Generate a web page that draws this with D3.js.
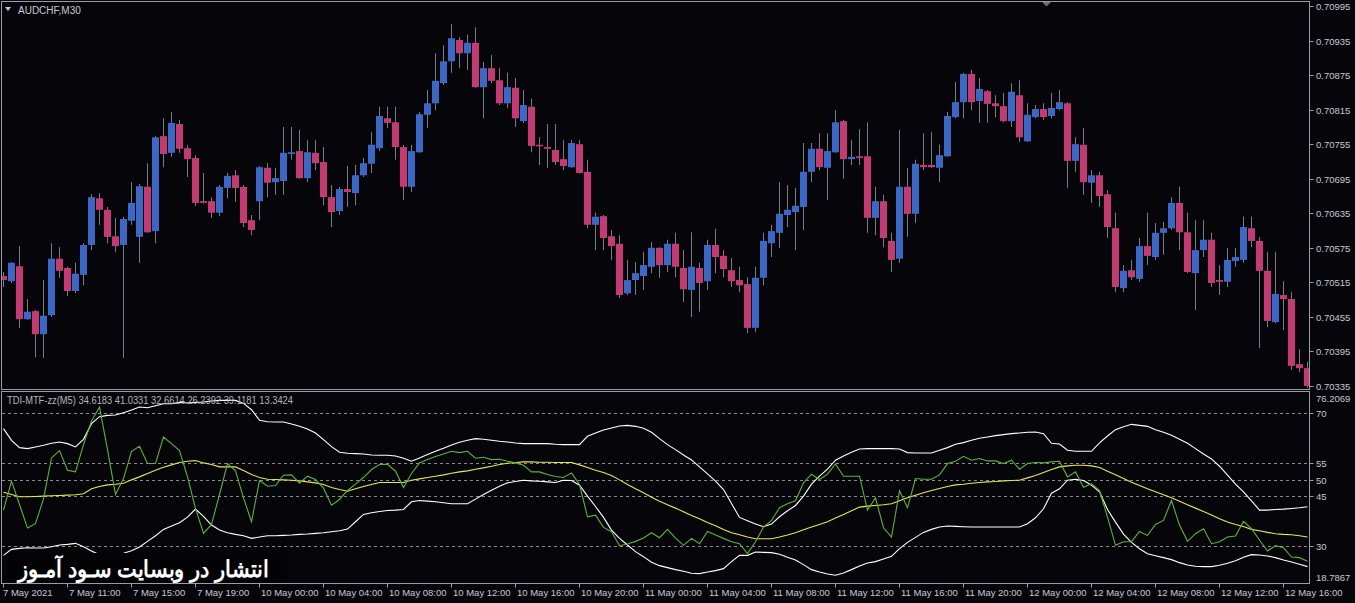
<!DOCTYPE html>
<html><head><meta charset="utf-8">
<script src="https://cdn.jsdelivr.net/npm/d3@7"></script>
<style>
html,body{margin:0;padding:0;background:#06060a;}
svg{display:block;}
text{font-family:"Liberation Sans",Arial,sans-serif;}
</style></head>
<body><svg id="c" width="1355" height="603"></svg>
<script>
// ---------- DATA ----------
const symbolTitle = "AUDCHF,M30";
const indicatorTitle = "TDI-MTF-zz(M5) 34.6183 41.0331 32.6614 26.2392 39.1181 13.3424";
const watermark = "انتشار در وبسایت سـود آمـوز";

const open = [0.70526,0.70517,0.70543,0.70451,0.70465,0.70425,0.70458,0.70556,0.70540,0.70500,
0.70528,0.70580,0.70661,0.70641,0.70595,0.70580,0.70622,0.70594,0.70681,0.70604,
0.70769,0.70740,0.70790,0.70748,0.70731,0.70656,0.70656,0.70636,0.70679,0.70701,
0.70681,0.70623,0.70656,0.70714,0.70689,0.70691,0.70738,0.70743,0.70696,0.70740,
0.70724,0.70663,0.70639,0.70677,0.70670,0.70701,0.70721,0.70748,0.70800,0.70793,
0.70750,0.70681,0.70741,0.70806,0.70826,0.70861,0.70899,0.70936,0.70913,0.70931,
0.70854,0.70887,0.70866,0.70826,0.70853,0.70795,0.70820,0.70754,0.70750,0.70745,
0.70729,0.70715,0.70755,0.70707,0.70615,0.70630,0.70595,0.70582,0.70496,0.70519,
0.70526,0.70542,0.70575,0.70545,0.70582,0.70540,0.70502,0.70540,0.70517,0.70580,
0.70561,0.70536,0.70519,0.70512,0.70436,0.70523,0.70583,0.70601,0.70632,0.70637,
0.70646,0.70707,0.70747,0.70714,0.70741,0.70795,0.70729,0.70734,0.70734,0.70627,
0.70656,0.70587,0.70556,0.70681,0.70634,0.70719,0.70719,0.70714,0.70734,0.70802,
0.70828,0.70877,0.70830,0.70847,0.70826,0.70821,0.70795,0.70840,0.70760,0.70802,
0.70816,0.70804,0.70816,0.70826,0.70726,0.70754,0.70688,0.70701,0.70668,0.70609,
0.70505,0.70536,0.70521,0.70578,0.70559,0.70601,0.70609,0.70653,0.70602,0.70531,
0.70571,0.70589,0.70519,0.70516,0.70552,0.70554,0.70609,0.70587,0.70535,0.70446,
0.70493,0.70486,0.70373,0.70366];
const high = [0.70533,0.70550,0.70578,0.70486,0.70467,0.70519,0.70583,0.70576,0.70542,0.70549,
0.70583,0.70668,0.70670,0.70646,0.70627,0.70629,0.70689,0.70686,0.70722,0.70769,
0.70800,0.70811,0.70797,0.70754,0.70736,0.70705,0.70663,0.70684,0.70705,0.70710,
0.70684,0.70632,0.70717,0.70722,0.70714,0.70785,0.70785,0.70780,0.70762,0.70762,
0.70750,0.70684,0.70681,0.70717,0.70719,0.70731,0.70776,0.70820,0.70820,0.70820,
0.70754,0.70754,0.70811,0.70849,0.70913,0.70927,0.70964,0.70941,0.70945,0.70958,
0.70898,0.70910,0.70887,0.70879,0.70870,0.70849,0.70834,0.70767,0.70790,0.70790,
0.70762,0.70762,0.70762,0.70728,0.70636,0.70632,0.70606,0.70597,0.70554,0.70550,
0.70568,0.70585,0.70576,0.70589,0.70601,0.70571,0.70602,0.70549,0.70589,0.70608,
0.70571,0.70557,0.70542,0.70524,0.70542,0.70601,0.70615,0.70689,0.70684,0.70679,
0.70757,0.70757,0.70774,0.70774,0.70814,0.70797,0.70762,0.70781,0.70793,0.70681,
0.70667,0.70601,0.70780,0.70714,0.70728,0.70774,0.70776,0.70754,0.70811,0.70863,
0.70879,0.70884,0.70870,0.70849,0.70840,0.70844,0.70861,0.70866,0.70826,0.70823,
0.70826,0.70844,0.70849,0.70828,0.70767,0.70783,0.70710,0.70707,0.70675,0.70636,
0.70545,0.70554,0.70592,0.70636,0.70618,0.70620,0.70663,0.70681,0.70636,0.70623,
0.70623,0.70601,0.70545,0.70575,0.70575,0.70629,0.70629,0.70594,0.70568,0.70568,
0.70517,0.70498,0.70399,0.70377];
const low = [0.70507,0.70514,0.70436,0.70450,0.70385,0.70384,0.70455,0.70523,0.70491,0.70496,
0.70510,0.70571,0.70615,0.70583,0.70568,0.70384,0.70615,0.70549,0.70601,0.70583,
0.70715,0.70733,0.70740,0.70698,0.70648,0.70652,0.70627,0.70630,0.70661,0.70655,
0.70611,0.70597,0.70623,0.70663,0.70667,0.70667,0.70728,0.70695,0.70689,0.70710,
0.70649,0.70611,0.70632,0.70646,0.70649,0.70698,0.70705,0.70743,0.70783,0.70728,
0.70658,0.70672,0.70740,0.70783,0.70814,0.70858,0.70879,0.70887,0.70884,0.70853,
0.70800,0.70861,0.70823,0.70818,0.70785,0.70792,0.70741,0.70719,0.70714,0.70719,
0.70710,0.70714,0.70704,0.70609,0.70571,0.70571,0.70554,0.70488,0.70493,0.70493,
0.70502,0.70531,0.70523,0.70533,0.70524,0.70481,0.70455,0.70464,0.70502,0.70531,
0.70524,0.70507,0.70498,0.70427,0.70429,0.70510,0.70559,0.70575,0.70611,0.70571,
0.70606,0.70689,0.70710,0.70658,0.70740,0.70695,0.70719,0.70719,0.70601,0.70597,
0.70576,0.70533,0.70549,0.70594,0.70618,0.70710,0.70714,0.70689,0.70733,0.70800,
0.70800,0.70814,0.70792,0.70792,0.70802,0.70793,0.70785,0.70759,0.70759,0.70800,
0.70797,0.70800,0.70814,0.70679,0.70707,0.70667,0.70653,0.70646,0.70592,0.70498,
0.70498,0.70519,0.70516,0.70545,0.70554,0.70563,0.70606,0.70571,0.70531,0.70467,
0.70559,0.70507,0.70493,0.70507,0.70542,0.70549,0.70576,0.70401,0.70437,0.70444,
0.70432,0.70363,0.70359,0.70332];
const close = [0.70519,0.70549,0.70451,0.70464,0.70425,0.70457,0.70556,0.70535,0.70500,0.70530,
0.70580,0.70663,0.70641,0.70594,0.70578,0.70625,0.70653,0.70682,0.70602,0.70767,
0.70738,0.70792,0.70747,0.70729,0.70653,0.70653,0.70636,0.70681,0.70700,0.70679,
0.70618,0.70606,0.70715,0.70688,0.70696,0.70740,0.70741,0.70696,0.70741,0.70722,
0.70663,0.70637,0.70677,0.70672,0.70701,0.70722,0.70754,0.70804,0.70792,0.70750,
0.70681,0.70743,0.70807,0.70826,0.70865,0.70899,0.70939,0.70913,0.70931,0.70854,
0.70887,0.70865,0.70826,0.70854,0.70800,0.70823,0.70752,0.70752,0.70747,0.70724,
0.70717,0.70757,0.70705,0.70615,0.70629,0.70592,0.70578,0.70493,0.70519,0.70531,
0.70545,0.70575,0.70545,0.70582,0.70542,0.70503,0.70542,0.70514,0.70580,0.70559,
0.70538,0.70517,0.70510,0.70436,0.70523,0.70587,0.70604,0.70634,0.70641,0.70648,
0.70707,0.70747,0.70715,0.70743,0.70793,0.70729,0.70733,0.70731,0.70627,0.70656,
0.70592,0.70554,0.70681,0.70634,0.70721,0.70715,0.70715,0.70736,0.70804,0.70828,
0.70877,0.70828,0.70851,0.70825,0.70821,0.70795,0.70846,0.70767,0.70806,0.70816,
0.70802,0.70818,0.70828,0.70726,0.70755,0.70689,0.70701,0.70665,0.70611,0.70507,
0.70535,0.70524,0.70578,0.70561,0.70601,0.70609,0.70653,0.70602,0.70533,0.70571,
0.70589,0.70514,0.70516,0.70554,0.70559,0.70611,0.70587,0.70535,0.70448,0.70495,
0.70486,0.70370,0.70366,0.70335];

const priceTicks = [0.70995,0.70935,0.70875,0.70815,0.70755,0.70695,0.70635,0.70575,0.70515,0.70455,0.70395,0.70335];

const timeTickBars = [0,8,16,24,32,40,48,56,64,72,80,88,96,104,112,120,128,136,144,152,160];
const timeTickLabels = ["7 May 2021","7 May 11:00","7 May 15:00","7 May 19:00","10 May 00:00","10 May 04:00",
"10 May 08:00","10 May 12:00","10 May 16:00","10 May 20:00","11 May 00:00","11 May 04:00","11 May 08:00",
"11 May 12:00","11 May 16:00","11 May 20:00","12 May 00:00","12 May 04:00","12 May 08:00","12 May 12:00","12 May 16:00"];

// TDI lines
const rsiLine = [40.8,49.5,42.5,35.4,36.7,44.2,56.5,58.7,52.8,52.3,
60.5,67.6,71.8,59.0,45.5,50.3,58.5,60.0,54.8,54.8,
62.8,60.8,58.7,50.8,41.3,33.8,36.5,45.5,54.8,52.6,
44.5,37.3,49.7,48.0,48.2,51.3,51.4,48.9,51.0,50.0,
47.4,42.3,44.0,46.7,48.6,50.6,53.0,54.5,54.6,52.5,
47.6,51.8,55.0,56.0,56.9,57.7,58.5,58.1,58.5,56.4,
56.7,56.0,56.1,55.5,55.0,54.3,52.3,52.3,51.5,50.9,
50.6,52.0,48.5,38.8,39.3,35.6,34.3,30.1,30.6,31.4,
32.4,34.0,32.5,35.0,32.4,30.2,32.3,30.7,34.4,33.3,
32.3,31.3,30.7,27.7,31.3,35.7,37.7,41.5,42.7,43.6,
49.0,51.6,50.0,51.6,54.7,51.0,51.0,51.0,40.8,44.5,
35.5,32.7,46.6,41.5,50.3,50.1,50.1,51.4,54.8,55.5,
57.0,55.8,56.3,55.6,55.6,54.8,55.8,53.1,54.8,55.1,
55.0,55.3,55.5,50.8,52.3,47.7,48.7,46.7,38.7,30.2,
31.3,31.3,34.4,33.2,36.5,37.7,43.7,36.3,31.4,33.7,
35.2,30.7,31.3,32.7,33.0,37.4,35.2,31.8,28.5,30.1,
29.5,26.7,26.5,25.4];
const signalLine = [46.2,45.5,44.8,44.8,44.9,45.0,45.1,45.2,45.3,45.4,
45.7,47.2,47.9,48.4,48.6,48.9,49.9,50.8,51.8,52.8,
53.7,54.4,55.1,55.5,55.7,55.0,54.5,53.8,53.8,53.8,
52.7,51.5,50.6,50.1,50.0,49.9,49.8,49.6,49.3,49.0,
48.5,47.6,47.0,46.5,47.2,47.9,48.5,49.1,49.1,49.1,
49.1,49.8,50.2,50.6,51.0,51.4,51.9,52.3,52.6,53.1,
53.5,54.0,54.5,54.9,55.1,55.3,55.3,55.2,55.2,55.1,
55.1,55.1,54.4,53.6,52.8,52.1,51.2,49.9,48.5,47.2,
46.0,44.7,43.5,42.4,41.4,40.3,39.2,38.2,37.1,36.1,
35.0,34.0,33.4,32.7,32.2,32.2,32.2,32.7,33.3,34.0,
34.9,35.7,36.5,37.3,38.4,39.5,40.6,41.7,42.0,42.2,
42.4,42.7,43.6,44.5,45.3,46.0,46.7,47.3,47.9,48.4,
48.6,48.9,49.1,49.3,49.4,49.6,49.7,49.8,50.5,51.2,
52.1,53.0,53.8,54.1,54.3,54.3,54.1,53.6,52.5,51.4,
50.3,49.2,48.2,47.2,46.3,45.4,44.5,43.5,42.4,41.4,
40.4,39.3,38.2,37.2,36.5,35.9,35.0,34.6,34.1,33.7,
33.5,33.4,33.1,32.7];
const upperBand = [65.3,61.8,59.6,59.3,59.8,60.3,60.9,61.3,60.8,59.8,
62.1,66.8,68.9,69.3,69.4,70.1,70.9,71.8,71.6,72.2,
72.8,72.8,73.2,73.0,73.2,73.3,73.6,73.8,73.8,73.8,
72.9,71.0,67.8,67.4,67.3,67.3,66.7,66.0,65.2,64.0,
62.0,59.9,58.2,57.9,57.8,57.7,57.4,57.3,57.3,57.1,
56.4,55.5,56.5,57.5,58.5,59.4,60.4,61.2,61.8,62.3,
62.1,61.8,61.5,61.3,61.0,60.8,60.8,60.8,60.8,60.6,
60.5,60.5,60.5,63.0,64.0,64.9,65.5,66.1,66.3,66.0,
65.4,64.2,62.3,60.5,59.0,57.4,55.9,53.8,51.7,49.5,
47.0,42.8,38.6,37.6,36.6,35.8,36.6,38.8,40.6,42.2,
45.0,48.6,51.0,53.1,55.8,57.1,58.2,59.2,59.3,59.3,
59.3,59.3,59.2,58.1,58.0,58.0,58.0,58.8,59.6,60.6,
61.1,61.8,62.4,62.8,63.2,63.5,63.8,64.0,64.2,64.3,
63.8,60.9,60.7,58.8,58.5,58.5,58.5,61.0,63.1,65.0,
65.9,66.6,66.3,66.0,65.0,64.2,63.3,62.1,60.9,59.3,
57.7,56.2,54.0,51.3,48.6,46.3,43.6,40.8,40.8,41.0,
41.1,41.3,41.5,41.8];
const lowerBand = [27.2,29.0,29.3,29.5,29.4,29.4,29.8,30.3,30.5,30.8,
29.8,28.5,27.4,27.1,27.2,27.8,28.6,29.7,31.4,33.1,
35.0,36.0,37.0,38.7,41.1,38.9,36.3,34.8,34.0,33.5,
33.1,32.3,32.7,33.1,33.1,33.2,33.3,33.5,33.6,33.8,
34.0,34.3,34.6,35.1,37.3,39.5,40.0,40.4,40.7,40.8,
41.0,43.3,43.7,43.5,43.3,43.0,42.7,42.7,42.7,44.1,
45.5,46.8,48.0,49.0,49.4,49.8,49.6,49.5,49.3,49.1,
49.8,49.7,48.3,45.0,41.9,38.6,34.8,32.3,30.3,28.3,
26.8,25.1,24.1,23.5,22.9,22.4,21.8,21.7,22.2,22.6,
23.2,25.3,27.2,27.2,28.2,28.1,28.0,27.5,26.6,25.8,
24.4,22.9,22.2,21.6,21.2,21.9,22.9,24.0,24.9,25.3,
26.1,26.9,29.2,31.1,32.6,34.1,35.0,35.7,36.0,35.9,
35.8,35.7,35.7,35.7,35.7,35.7,35.7,35.7,36.7,38.5,
41.2,45.9,47.2,49.8,50.1,49.7,48.3,46.3,41.0,37.2,
33.6,31.1,29.2,27.7,27.1,26.5,25.9,25.0,24.3,23.9,
23.8,23.8,24.2,24.8,25.6,26.6,27.4,27.3,27.0,26.5,
25.8,25.2,24.5,23.8];
const tdiLevels = [70,55,50,45,30];
const tdiRange = [18.7867, 76.2069];

// ---------- DRAW ----------
const svg = d3.select("#c");
const W = 1355, H = 603;
const axisX = 1309.5;
const mainTop = 1.5, mainBot = 389.5;
const indTop = 391.5, indBot = 583.5;
const frame = "#9c9ca8", txt = "#c6c6d2";
const bull = "#3c67c4", bear = "#c23b72", wick = "#7c7c88";
const fs = 9.5;

svg.append("rect").attr("width",W).attr("height",H).attr("fill","#06060a");

const n = open.length;
const x = d3.scaleLinear().domain([0, n-1]).range([3.5, 3.5 + 8*(n-1)]);
const y = d3.scaleLinear().domain([0.70335, 0.70995]).range([386, 6]);
const yi = d3.scaleLinear().domain(tdiRange).range([583.3, 392.4]);

const defs = svg.append("defs");
defs.append("clipPath").attr("id","cm").append("rect")
  .attr("x",2).attr("y",2).attr("width",axisX-2.5).attr("height",mainBot-2.5);
defs.append("clipPath").attr("id","ci").append("rect")
  .attr("x",2).attr("y",indTop+0.5).attr("width",axisX-2.5).attr("height",indBot-indTop-1);

// candles
const gc = svg.append("g").attr("clip-path","url(#cm)");
const idx = d3.range(n);
gc.selectAll("line.w").data(idx).join("line")
  .attr("x1",i=>Math.floor(x(i))+0.5).attr("x2",i=>Math.floor(x(i))+0.5)
  .attr("y1",i=>y(high[i])).attr("y2",i=>y(low[i]))
  .attr("stroke",wick).attr("stroke-width",1);
gc.selectAll("rect.b").data(idx).join("rect")
  .attr("x",i=>Math.floor(x(i))-3).attr("width",7)
  .attr("y",i=>y(Math.max(open[i],close[i])))
  .attr("height",i=>Math.max(1.5, Math.abs(y(open[i])-y(close[i]))))
  .attr("fill",i=>close[i]>=open[i]?bull:bear);

// frames
svg.append("rect").attr("x",1.5).attr("y",mainTop).attr("width",axisX-1.5).attr("height",mainBot-mainTop)
  .attr("fill","none").attr("stroke",frame);
svg.append("rect").attr("x",1.5).attr("y",indTop).attr("width",axisX-1.5).attr("height",indBot-indTop)
  .attr("fill","none").attr("stroke",frame);

// title
svg.append("path").attr("d","M5,7 L11,7 L8,11 Z").attr("fill",txt);
svg.append("text").attr("x",18).attr("y",13.5).attr("font-size",10).attr("fill",txt).text(symbolTitle);
// shift marker
svg.append("path").attr("d","M1042,2 L1051,2 L1046.5,6.5 Z").attr("fill","#6e6e78");

// price axis
const ga = svg.append("g");
priceTicks.forEach(p=>{
  const yy = Math.round(y(p))+0.5;
  ga.append("line").attr("x1",axisX).attr("x2",axisX+4).attr("y1",yy).attr("y2",yy).attr("stroke",frame);
  ga.append("text").attr("x",1316).attr("y",yy+3.5).attr("font-size",fs).attr("fill",txt).text(p.toFixed(5));
});

// indicator
const gi = svg.append("g").attr("clip-path","url(#ci)");
tdiLevels.forEach(v=>{
  const yy = Math.round(yi(v))+0.5;
  gi.append("line").attr("x1",2).attr("x2",axisX).attr("y1",yy).attr("y2",yy)
    .attr("stroke","#8a8a8a").attr("stroke-dasharray","3,3");
  ga.append("line").attr("x1",axisX).attr("x2",axisX+4).attr("y1",yy).attr("y2",yy).attr("stroke",frame);
  ga.append("text").attr("x",1316).attr("y",yy+3.5).attr("font-size",fs).attr("fill",txt).text(v);
});
ga.append("text").attr("x",1316).attr("y",401.5).attr("font-size",fs).attr("fill",txt).text(tdiRange[1].toFixed(4));
ga.append("text").attr("x",1316).attr("y",580.5).attr("font-size",fs).attr("fill",txt).text(tdiRange[0].toFixed(4));

const ln = d3.line().x((d,i)=>x(i)).y(d=>yi(d));
[[upperBand,"#ffffff"],[lowerBand,"#ffffff"],[signalLine,"#e6e65a"],[rsiLine,"#5fb03e"]].forEach(([arr,c])=>{
  gi.append("path").attr("d",ln(arr)).attr("fill","none").attr("stroke",c).attr("stroke-width",1.1);
});
svg.append("text").attr("x",7).attr("y",403.5).attr("font-size",10).attr("fill","#b4b4bc")
  .attr("textLength",286).attr("lengthAdjust","spacingAndGlyphs").text(indicatorTitle);

// watermark
svg.append("rect").attr("x",7).attr("y",553).attr("width",280).attr("height",30).attr("rx",5)
  .attr("fill","#030305");
svg.append("text").attr("x",143).attr("y",577).attr("text-anchor","middle")
  .attr("font-family","'DejaVu Sans',sans-serif").attr("font-weight","bold").attr("font-size",23)
  .attr("fill","#ffffff").attr("textLength",250).attr("lengthAdjust","spacingAndGlyphs").text(watermark);

// time axis
timeTickBars.forEach((b,k)=>{
  const xx = Math.floor(x(b))+0.5;
  svg.append("line").attr("x1",xx).attr("x2",xx).attr("y1",indBot).attr("y2",indBot+4).attr("stroke",frame);
  svg.append("text").attr("x",xx+(k===0?-0.5:1.5)).attr("y",596).attr("font-size",fs).attr("fill",txt).text(timeTickLabels[k]);
});
</script></body></html>
